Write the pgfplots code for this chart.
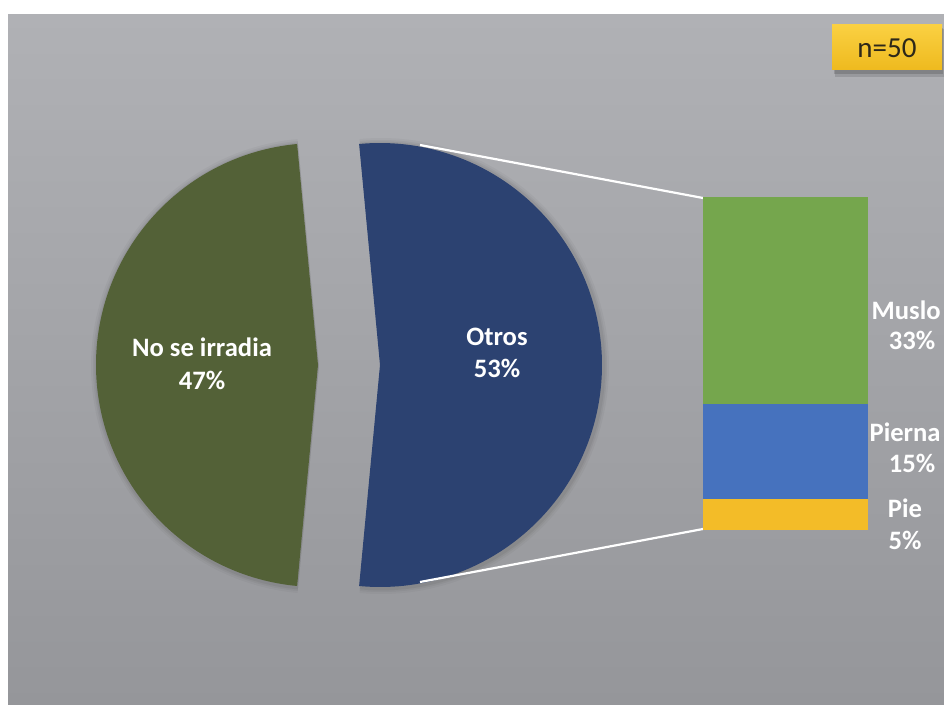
\documentclass[border=0pt]{standalone}
\usepackage{pgfplots}
\pgfplotsset{compat=1.18}
\usepackage{fontspec}
\setmainfont{Carlito}
\definecolor{bgtop}{RGB}{176,177,181}
\definecolor{bgbot}{RGB}{149,150,154}
\definecolor{cNo}{RGB}{83,97,55}
\definecolor{cOtros}{RGB}{44,66,113}
\definecolor{cMuslo}{RGB}{117,166,77}
\definecolor{cPierna}{RGB}{70,114,190}
\definecolor{cPie}{RGB}{243,188,40}
\definecolor{boxtop}{RGB}{250,208,66}
\definecolor{boxbot}{RGB}{238,186,30}
\definecolor{ntext}{RGB}{45,40,25}
% data (percent)
\def\vNo{47}
\def\vOtros{53}
\def\vMuslo{33}
\def\vPierna{15}
\def\vPie{5}
\begin{document}
\begin{tikzpicture}
\pgfmathsetmacro{\aStart}{\vOtros*3.6/2}
\pgfmathsetmacro{\aEnd}{\aStart+\vNo*3.6}
\begin{axis}[
  at={(0,0)}, anchor=south west,
  scale only axis, width=472pt, height=352.5pt,
  xmin=0, xmax=944, ymin=0, ymax=705, y dir=reverse,
  hide axis, clip=false,
]
% background
\fill[white] (axis cs:0,0) rectangle (axis cs:944,705);
\fill[top color=bgtop, bottom color=bgbot] (axis cs:8,15) rectangle (axis cs:944,705);
% soft shadows
\fill[black, opacity=0.03] (axis cs:319,366) -- +(\aStart:114pt) arc[start angle=\aStart, end angle=\aEnd, radius=114pt] -- cycle;
\fill[black, opacity=0.04] (axis cs:319,366) -- +(\aStart:113pt) arc[start angle=\aStart, end angle=\aEnd, radius=113pt] -- cycle;
\fill[black, opacity=0.05] (axis cs:319,366) -- +(\aStart:112.2pt) arc[start angle=\aStart, end angle=\aEnd, radius=112.2pt] -- cycle;
\fill[black, opacity=0.03] (axis cs:381,366) -- +(-\aStart:114pt) arc[start angle=-\aStart, end angle=\aStart, radius=114pt] -- cycle;
\fill[black, opacity=0.04] (axis cs:381,366) -- +(-\aStart:113pt) arc[start angle=-\aStart, end angle=\aStart, radius=113pt] -- cycle;
\fill[black, opacity=0.05] (axis cs:381,366) -- +(-\aStart:112.2pt) arc[start angle=-\aStart, end angle=\aStart, radius=112.2pt] -- cycle;
% pie slices
\fill[cNo] (axis cs:318,365) -- +(\aStart:111pt) arc[start angle=\aStart, end angle=\aEnd, radius=111pt] -- cycle;
\fill[cOtros] (axis cs:380,365) -- +(-\aStart:111pt) arc[start angle=-\aStart, end angle=\aStart, radius=111pt] -- cycle;
% connectors
\draw[white, line width=1.1pt] (axis cs:420,145) -- (axis cs:703,198);
\draw[white, line width=1.1pt] (axis cs:420,582) -- (axis cs:703,529);
% pie labels
\node[white, font=\bfseries\fontsize{13.3}{15}\selectfont] at (axis cs:202,347) {No se irradia};
\node[white, font=\bfseries\fontsize{13.3}{15}\selectfont] at (axis cs:202,380) {47\%};
\node[white, font=\bfseries\fontsize{13.3}{15}\selectfont] at (axis cs:497,337) {Otros};
\node[white, font=\bfseries\fontsize{13.3}{15}\selectfont] at (axis cs:497,368) {53\%};
% bar labels
\node[white, font=\bfseries\fontsize{13.3}{15}\selectfont, anchor=east, inner sep=0pt] at (axis cs:941,310) {Muslo};
\node[white, font=\bfseries\fontsize{13.3}{15}\selectfont] at (axis cs:912,340) {33\%};
\node[white, font=\bfseries\fontsize{13.3}{15}\selectfont, anchor=east, inner sep=0pt] at (axis cs:941,432) {Pierna};
\node[white, font=\bfseries\fontsize{13.3}{15}\selectfont] at (axis cs:912,463) {15\%};
\node[white, font=\bfseries\fontsize{13.3}{15}\selectfont] at (axis cs:905,508) {Pie};
\node[white, font=\bfseries\fontsize{13.3}{15}\selectfont] at (axis cs:905,540) {5\%};
% n=50 box
\fill[black, opacity=0.12] (axis cs:835,29) rectangle (axis cs:944,77);
\fill[black, opacity=0.15] (axis cs:834,28) rectangle (axis cs:943,74);
\fill[top color=boxtop, bottom color=boxbot] (axis cs:832,25) rectangle (axis cs:942,70);
\node[ntext, font=\fontsize{14.5}{16}\selectfont] at (axis cs:887,48) {n=50};
\end{axis}
\begin{axis}[
  at={(351.5pt,87.5pt)}, anchor=south west,
  scale only axis, width=82.5pt, height=166.5pt,
  xmin=-0.5, xmax=0.5, ymin=0, ymax=53,
  hide axis, ybar stacked, bar width=82.5pt,
]
\addplot[fill=cPie, draw=none] coordinates {(0,\vPie)};
\addplot[fill=cPierna, draw=none] coordinates {(0,\vPierna)};
\addplot[fill=cMuslo, draw=none] coordinates {(0,\vMuslo)};
\end{axis}
\pgfresetboundingbox
\useasboundingbox (0,0) rectangle (472pt,352.5pt);
\end{tikzpicture}
\end{document}
